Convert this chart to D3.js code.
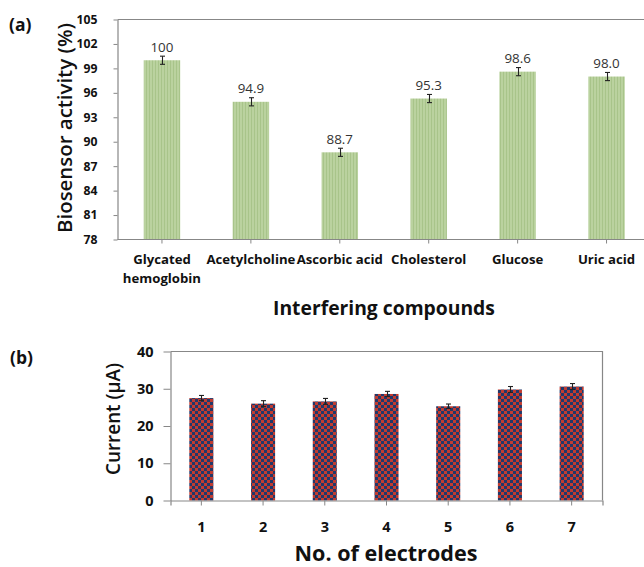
<!DOCTYPE html>
<html><head><meta charset="utf-8">
<script src="https://d3js.org/d3.v7.min.js"></script>
<style>
html,body{margin:0;padding:0;background:#fff;}
svg{display:block;font-family:"Open Sans",Lato,sans-serif;}
</style></head>
<body><svg id="c" width="644" height="567"></svg>
<script>
// ---- data panel (a)
const compounds = ["Glycated\nhemoglobin","Acetylcholine","Ascorbic acid","Cholesterol","Glucose","Uric acid"];
const activity = [100, 94.9, 88.7, 95.3, 98.6, 98.0];
const activityErr = [0.5, 0.5, 0.5, 0.5, 0.5, 0.5];
const activityLabels = ["100","94.9","88.7","95.3","98.6","98.0"];
const activityTicks = [78,81,84,87,90,93,96,99,102,105];
// ---- data panel (b)
const electrodes = ["1","2","3","4","5","6","7"];
const current = [27.5, 26.0, 26.6, 28.6, 25.3, 29.8, 30.6];
const currentErr = [0.7, 0.8, 0.8, 0.7, 0.6, 0.8, 0.8];
const currentTicks = [0,10,20,30,40];

const svg = d3.select("#c");
const axisCol = "#878787";
const txtCol = "#111";

// scale font size of a selection so that the reference text's width is matched
function fit(sel, ref, target){
  const w = ref.node().getComputedTextLength();
  const s = +ref.attr("font-size");
  const ns = s * target / w;
  sel.attr("font-size", ns);
  return ns;
}

const defs = svg.append("defs");
const pg = defs.append("pattern").attr("id","stripe").attr("patternUnits","userSpaceOnUse")
  .attr("width",3).attr("height",3);
pg.append("rect").attr("width",3).attr("height",3).attr("fill","#bad29f");
pg.append("rect").attr("x",2).attr("width",1).attr("height",3).attr("fill","#a8c48a");
const pc = defs.append("pattern").attr("id","checker").attr("patternUnits","userSpaceOnUse")
  .attr("width",6).attr("height",6);
pc.append("rect").attr("width",6).attr("height",6).attr("fill","#c13b30");
pc.append("rect").attr("width",3).attr("height",3).attr("fill","#21386a");
pc.append("rect").attr("x",3).attr("y",3).attr("width",3).attr("height",3).attr("fill","#21386a");

function errBars(g, data, x, y, cap){
  const eg = g.append("g").attr("stroke","#222").attr("stroke-width",1.1);
  data.forEach(d=>{
    const cx = Math.round(x(d.k)+x.bandwidth()/2)+0.5;
    const y1 = y(d.v+d.e), y2 = y(d.v-d.e);
    eg.append("line").attr("x1",cx).attr("x2",cx).attr("y1",y1).attr("y2",y2);
    eg.append("line").attr("x1",cx-cap).attr("x2",cx+cap).attr("y1",y1).attr("y2",y1);
    eg.append("line").attr("x1",cx-cap).attr("x2",cx+cap).attr("y1",y2).attr("y2",y2);
  });
}

// ================= panel (a)
{
  const x = d3.scaleBand().domain(compounds).range([117.5, 651]).paddingInner(0.59).paddingOuter(0.295);
  const y = d3.scaleLinear().domain([78,105]).range([239.5, 19.5]);
  const g = svg.append("g");
  const data = compounds.map((k,i)=>({k, v:activity[i], e:activityErr[i], l:activityLabels[i]}));
  g.selectAll("rect.bar").data(data).join("rect").attr("class","bar")
    .attr("x",d=>x(d.k)).attr("width",x.bandwidth())
    .attr("y",d=>y(d.v)).attr("height",d=>y(78)-y(d.v))
    .attr("fill","url(#stripe)");
  g.append("line").attr("x1",117.5).attr("x2",644).attr("y1",y(105)).attr("y2",y(105))
    .attr("stroke",axisCol).attr("stroke-width",1.2);
  const ya = g.append("g").attr("transform","translate(117.5,0)")
    .call(d3.axisLeft(y).tickValues(activityTicks).tickSize(4).tickSizeOuter(0).tickFormat(d3.format("d")));
  ya.select(".domain").attr("stroke",axisCol).attr("stroke-width",1.2);
  ya.selectAll(".tick line").attr("stroke",axisCol);
  ya.selectAll(".tick text").attr("x",-20).attr("font-size",12.2).attr("font-weight",700)
    .attr("fill",txtCol).attr("font-family","Open Sans");
  const xa = g.append("g").attr("transform","translate(0,239.5)")
    .call(d3.axisBottom(x).tickSize(4).tickSizeOuter(0).tickFormat(""));
  xa.select(".domain").attr("d","M117.5,0H644").attr("stroke",axisCol).attr("stroke-width",1.2);
  xa.selectAll(".tick line").attr("stroke",axisCol);
  const cl = g.append("g").attr("font-weight",700).attr("fill",txtCol).attr("text-anchor","middle");
  compounds.forEach(k=>{
    const t = cl.append("text").attr("font-size",12).attr("x",x(k)+x.bandwidth()/2).attr("y",264);
    k.split("\n").forEach((s,j)=>t.append("tspan").attr("x",x(k)+x.bandwidth()/2).attr("dy",j?19:0).text(s));
  });
  const cls = cl.selectAll("text");
  fit(cls, cls.filter((d,i)=>i===1), 89);
  errBars(g, data, x, y, 2.5);
  const vl = g.selectAll("text.val").data(data).join("text").attr("class","val")
    .attr("x",d=>x(d.k)+x.bandwidth()/2).attr("y",d=>y(d.v+d.e)-4.5)
    .attr("text-anchor","middle").attr("font-size",13).attr("fill","#333").text(d=>d.l);
  fit(vl, vl.filter((d,i)=>i===1), 26.5);
  const yTitle = g.append("text").attr("transform","translate(72,128) rotate(-90)").attr("text-anchor","middle")
    .attr("font-size",20).attr("font-weight",600).attr("fill",txtCol).text("Biosensor activity (%)");
  fit(yTitle, yTitle, 210);
  const xTitle = g.append("text").attr("x",384).attr("y",315).attr("text-anchor","middle")
    .attr("font-size",20).attr("font-weight",700).attr("fill",txtCol).text("Interfering compounds");
  fit(xTitle, xTitle, 222);
  const pa = g.append("text").attr("x",9).attr("y",31).attr("font-size",15).attr("font-weight",700).attr("fill",txtCol).text("(a)");
  fit(pa, pa, 22.5);
}

// ================= panel (b)
{
  const x = d3.scaleBand().domain(electrodes).range([170.5, 602.5]).paddingInner(0.61).paddingOuter(0.305);
  const y = d3.scaleLinear().domain([0,40]).range([500.5, 351.5]);
  const g = svg.append("g");
  const data = electrodes.map((k,i)=>({k, v:current[i], e:currentErr[i]}));
  g.selectAll("rect.bar").data(data).join("rect").attr("class","bar")
    .attr("x",d=>x(d.k)).attr("width",x.bandwidth())
    .attr("y",d=>y(d.v)).attr("height",d=>y(0)-y(d.v))
    .attr("fill","url(#checker)");
  g.append("path").attr("d",`M170.5,${y(40)}H602.5V${y(0)}`).attr("fill","none")
    .attr("stroke",axisCol).attr("stroke-width",1.2);
  const ya = g.append("g").attr("transform","translate(170.5,0)")
    .call(d3.axisLeft(y).tickValues(currentTicks).tickSize(7).tickSizeOuter(0));
  ya.select(".domain").attr("stroke",axisCol).attr("stroke-width",1.2);
  ya.selectAll(".tick line").attr("stroke",axisCol);
  ya.selectAll(".tick text").attr("x",-17).attr("font-size",14.5).attr("font-weight",700)
    .attr("fill",txtCol).attr("font-family","Open Sans");
  const xa = g.append("g").attr("transform",`translate(0,${y(0)})`)
    .call(d3.axisBottom(x).tickSize(5).tickSizeOuter(5));
  xa.select(".domain").attr("stroke",axisCol).attr("stroke-width",1.2);
  xa.selectAll(".tick line").attr("stroke",axisCol);
  xa.selectAll(".tick text").attr("y",null).attr("dy",null).attr("transform",`translate(0,${531.5-y(0)})`)
    .attr("font-size",14.5).attr("font-weight",700).attr("fill",txtCol).attr("font-family","Open Sans");
  errBars(g, data, x, y, 2.5);
  const yTitle = g.append("text").attr("transform","translate(120,419) rotate(-90)").attr("text-anchor","middle")
    .attr("font-size",20).attr("font-weight",600).attr("fill",txtCol).text("Current (μA)");
  fit(yTitle, yTitle, 112);
  const xTitle = g.append("text").attr("x",386).attr("y",561).attr("text-anchor","middle")
    .attr("font-size",20).attr("font-weight",700).attr("fill",txtCol).text("No. of electrodes");
  fit(xTitle, xTitle, 183);
  const pb = g.append("text").attr("x",10).attr("y",364).attr("font-size",15).attr("font-weight",700).attr("fill",txtCol).text("(b)");
  fit(pb, pb, 23);
}
</script></body></html>
